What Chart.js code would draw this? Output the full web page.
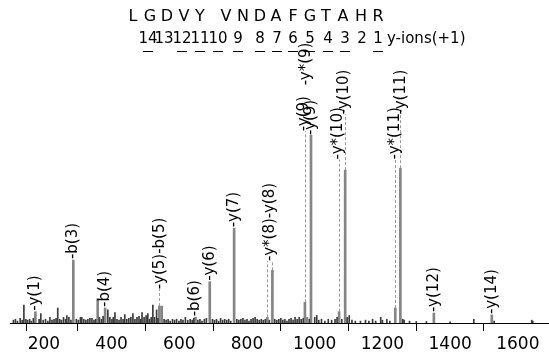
<!DOCTYPE html>
<html>
<head>
<meta charset="utf-8">
<script src="https://cdn.jsdelivr.net/npm/chart.js@4"></script>
<style>
  body { margin: 0; background: #fff; }
  canvas { display: block; }
</style>
</head>
<body>
<canvas id="myChart" width="549" height="359"></canvas>
<script>
// labelled fragment peaks: m/z and relative intensity (y(9) = 100)
var peakMz  = [175, 287, 359, 381, 541, 548, 648, 690, 762, 860, 875, 971, 977, 989, 1072, 1090, 1238, 1253, 1352, 1523];
var peakInt = [6, 33.5, 12.8, 8, 9, 9, 3, 22, 50.5, 3, 28, 11, 3, 100, 6, 81.4, 8, 82.4, 5.3, 4.3];

// unassigned background peaks
var noiseMz = [110, 116, 122, 130, 136, 141, 147, 152, 158, 163, 169, 186, 191, 198, 205, 212, 218, 224, 230, 236,
  241, 247, 252, 258, 264, 268, 274, 280, 296, 302, 308, 312, 318, 324, 330, 336, 342, 348, 353, 364,
  370, 375, 389, 395, 401, 405, 410, 416, 422, 428, 434, 439, 445, 451, 457, 463, 469, 475, 481, 486,
  490, 496, 502, 507, 512, 517, 522, 527, 533, 537, 555, 561, 567, 573, 580, 586, 592, 599, 605, 611,
  618, 625, 632, 638, 643, 655, 661, 667, 674, 680, 698, 704, 710, 716, 722, 728, 734, 740, 746, 752,
  770, 776, 782, 788, 794, 800, 806, 812, 818, 824, 830, 836, 842, 848, 854, 866, 882, 888, 894, 900,
  906, 912, 918, 924, 930, 936, 942, 948, 954, 960, 966, 984, 1000, 1006, 1012, 1020, 1030, 1040, 1050, 1060,
  1066, 1080, 1096, 1102, 1110, 1120, 1135, 1150, 1160, 1171, 1180, 1195, 1200, 1213, 1222, 1260, 1264, 1280, 1300, 1330,
  1400, 1470, 1530, 1641, 1644];
var noiseInt = [1.5, 2, 1, 2.5, 1.5, 9.5, 2, 1.5, 2, 1, 2.5, 2, 5, 1.5, 2, 1, 3, 1.5, 2, 2.5,
  8, 2, 1.5, 3, 2, 4, 3, 1.5, 2, 1.5, 3, 3, 2, 1.5, 2, 2.5, 2.5, 1.5, 2, 3,
  2, 3.5, 7, 3, 2, 3, 5.5, 2, 1.5, 3, 2, 4.5, 2, 2.5, 3, 5, 2, 3, 3.5, 2,
  5.5, 3, 4, 5, 2, 3, 9.5, 3, 7, 2.5, 2, 1.5, 2, 1, 2, 1.5, 2, 1, 2, 1.5,
  3, 1.5, 2, 1.5, 2.5, 1.5, 2, 1, 2, 2.5, 2, 1.5, 2, 1, 2.5, 1.5, 2, 1.5, 2, 1,
  2, 1.5, 2, 2.5, 1.5, 2, 1, 2, 2.5, 3, 2, 1.5, 2, 1.5, 2, 1.5, 2, 1.5, 2, 2.5,
  1.5, 2, 1, 2, 2.5, 1.5, 3, 2, 3, 2, 2.5, 2, 3, 4, 1.5, 2, 1, 2, 1.5, 2,
  3, 2, 3, 4, 1.5, 1, 1, 1.5, 1, 2, 1, 3, 1.5, 2, 1, 2, 1.5, 1, 0.8, 0.8,
  0.6, 2, 1, 1.5, 1];

// x axis tick values (first one is the unlabelled axis start)
var mzTicks = [100, 200, 400, 600, 800, 1000, 1200, 1400, 1600];

// ion annotations: label text, m/z where it sits, intensity level where the text starts
var labelText  = ['-y(1)', '-b(3)', '-b(4)', '-y(5)-b(5)', '-b(6)', '-y(6)', '-y(7)', '-y*(8)-y(8)', '-y(9)', '-y(9)', '-y*(9)', '-y*(10)', '-y(10)', '-y*(11)', '-y(11)', '-y(12)', '-y(14)'];
var labelMz    = [175, 287, 381, 544, 648, 690, 762, 868, 969, 990, 976, 1068, 1088, 1236, 1254, 1352, 1523];
var labelLevel = [6, 33.5, 8, 17.5, 3, 22, 50.5, 32.5, 101.5, 99.5, 126, 86.5, 110.5, 86.5, 110.5, 5.3, 4.3];

// dashed leader lines: from the peak at m/z up to a label level
var leaderMz    = [541, 860, 875, 971, 1072, 1090, 1238, 1253];
var leaderFrom  = [9, 3, 28, 11, 6, 81.4, 8, 82.4];
var leaderLevel = [17.5, 32.5, 32.5, 101.5, 86.5, 110.5, 86.5, 110.5];

var sequence = ['L', 'G', 'D', 'V', 'Y', 'V', 'N', 'D', 'A', 'F', 'G', 'T', 'A', 'H', 'R'];
var ionNumbers = ['14', '13', '12', '11', '10', '9', '8', '7', '6', '5', '4', '3', '2', '1'];
var ionSeen = [true, false, true, true, true, true, true, true, true, true, true, true, false, true];

function toPoints(xs, ys) {
  var pts = [];
  for (var i = 0; i < xs.length; i++) pts.push({ x: xs[i], y: ys[i] });
  return pts;
}

var labelPlugin = {
  id: 'ionLabels',
  afterDatasetsDraw: function(chart) {
    var ctx = chart.ctx;
    var xs = chart.scales.x, ys = chart.scales.y;
    ctx.save();

    // dashed leaders
    ctx.strokeStyle = '#9a9a9a';
    ctx.lineWidth = 1;
    ctx.setLineDash([3, 2]);
    for (var i = 0; i < leaderMz.length; i++) {
      var lx = Math.round(xs.getPixelForValue(leaderMz[i])) + 0.5;
      ctx.beginPath();
      ctx.moveTo(lx, ys.getPixelForValue(leaderFrom[i]));
      ctx.lineTo(lx, ys.getPixelForValue(leaderLevel[i]) - 1);
      ctx.stroke();
    }
    ctx.setLineDash([]);

    // rotated ion labels
    ctx.fillStyle = '#000';
    ctx.font = '15px "DejaVu Sans"';
    ctx.textAlign = 'left';
    ctx.textBaseline = 'middle';
    for (var j = 0; j < labelText.length; j++) {
      ctx.save();
      ctx.translate(xs.getPixelForValue(labelMz[j]), ys.getPixelForValue(labelLevel[j]) - 1);
      ctx.rotate(-Math.PI / 2);
      ctx.fillText(labelText[j], 0, 0);
      ctx.restore();
    }

    // peptide sequence header
    ctx.font = '16px "DejaVu Sans"';
    ctx.textAlign = 'center';
    ctx.textBaseline = 'middle';
    var seqX = [133, 150, 167, 184, 200, 226, 243, 260, 276, 293, 310, 326, 343, 361, 378];
    for (var k = 0; k < sequence.length; k++) {
      ctx.fillText(sequence[k], seqX[k], 17);
    }
    var numX = [148, 164, 182, 200, 218, 238, 260, 277, 293, 310, 328, 345, 362, 378];
    ctx.font = '15px "DejaVu Sans"';
    ctx.strokeStyle = '#000';
    ctx.lineWidth = 1;
    for (var n = 0; n < ionNumbers.length; n++) {
      ctx.fillText(ionNumbers[n], numX[n], 39);
      if (ionSeen[n]) {
        ctx.beginPath();
        ctx.moveTo(numX[n] - 5, 51.5);
        ctx.lineTo(numX[n] + 5, 51.5);
        ctx.stroke();
      }
    }
    ctx.textAlign = 'left';
    ctx.fillText('y-ions(+1)', 387, 39);
    ctx.restore();
  }
};

var myChart = new Chart(document.getElementById('myChart').getContext('2d'), {
  type: 'bar',
  data: {
    datasets: [{
      label: 'background',
      data: toPoints(noiseMz, noiseInt),
      backgroundColor: '#3a3a3a',
      barThickness: 1,
      grouped: false
    }, {
      label: 'fragments',
      data: toPoints(peakMz, peakInt),
      backgroundColor: '#858585',
      barThickness: 2,
      grouped: false
    }]
  },
  options: {
    responsive: false,
    animation: false,
    devicePixelRatio: 1,
    layout: { padding: { left: 10, right: 0, top: 60, bottom: 0 } },
    plugins: {
      legend: { display: false },
      tooltip: { enabled: false }
    },
    scales: {
      x: {
        type: 'linear',
        min: 100,
        max: 1692,
        offset: false,
        border: { display: true, color: '#000', width: 1 },
        grid: { display: true, drawOnChartArea: false, drawTicks: true, tickLength: 8, color: '#000' },
        afterBuildTicks: function(scale) {
          scale.ticks = mzTicks.map(function(v) { return { value: v }; });
        },
        ticks: {
          padding: 3,
          color: '#000',
          maxRotation: 0,
          autoSkip: false,
          font: { family: 'DejaVu Sans', size: 17 },
          callback: function(v) { return v === mzTicks[0] ? '' : String(v); }
        },
        afterFit: function(scale) { scale.height = 36; }
      },
      y: {
        display: false,
        min: 0,
        max: 140
      }
    }
  },
  plugins: [labelPlugin]
});
</script>
</body>
</html>
